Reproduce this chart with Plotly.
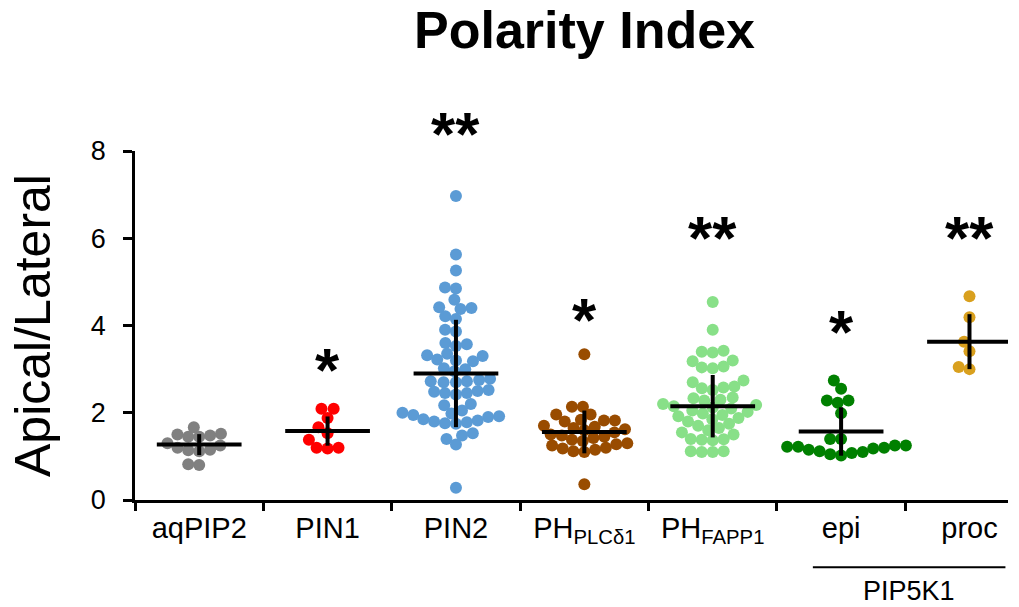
import numpy as np
import plotly.graph_objects as go

categories = ["aqPIP2", "PIN1", "PIN2", "PH<sub>PLCδ1</sub>", "PH<sub>FAPP1</sub>", "epi", "proc"]
colors = ["#808080", "#ff0000", "#5b9bd5", "#994c00", "#88e088", "#008000", "#d9a01e"]

aqPIP2 = [1.67, 1.5, 1.48, 1.52, 1.45, 1.45, 1.3, 1.25, 1.2, 1.15, 1.14, 1.12, 0.82, 0.8]
PIN1 = [2.09, 2.09, 1.88, 1.67, 1.53, 1.38, 1.2, 1.18, 1.2]
PIN2 = [6.97, 5.63, 5.26, 4.87, 4.85, 4.59, 4.4, 4.38, 4.42, 4.21, 4.15, 3.9, 3.86, 3.6,
        3.57, 3.53, 3.35, 3.32, 3.3, 3.2, 3.22, 3.18, 3.02, 3.0, 2.95, 2.75, 2.72, 2.7,
        2.7, 2.72, 2.78, 2.5, 2.45, 2.42, 2.45, 2.48, 2.52, 2.2, 2.17, 2.05, 2.0, 1.98,
        1.95, 1.92, 1.9, 1.85, 1.82, 1.8, 1.78, 1.75, 1.76, 1.53, 1.4, 1.27, 1.48, 0.28]
PH_PLC = [3.34, 2.14, 2.14, 1.96, 1.96, 1.82, 1.8, 1.84, 1.82, 1.7, 1.68, 1.65, 1.62, 1.6,
          1.55, 1.5, 1.48, 1.45, 1.42, 1.38, 1.35, 1.3, 1.28, 1.25, 1.2, 1.18, 1.15, 1.12,
          1.1, 0.36]
PH_FAPP1 = [4.54, 3.9, 3.42, 3.4, 3.38, 3.2, 3.18, 3.06, 3.02, 3.04, 2.74, 2.7, 2.58, 2.52,
            2.56, 2.6, 2.35, 2.33, 2.3, 2.28, 2.2, 2.18, 2.15, 2.12, 2.1, 2.05, 2.02, 1.98,
            1.95, 1.92, 1.88, 1.85, 1.8, 1.75, 1.7, 1.65, 1.6, 1.55, 1.5, 1.4, 1.38, 1.39,
            1.37, 1.12, 1.1, 1.1, 1.12]
epi = [2.74, 2.55, 2.28, 2.28, 2.23, 1.99, 1.4, 1.4, 1.25, 1.22, 1.2, 1.15, 1.1, 1.05,
       1.02, 1.08, 1.12, 1.18, 1.22, 1.25]
proc = [4.67, 4.19, 3.63, 3.41, 3.0, 3.05]

groups = [aqPIP2, PIN1, PIN2, PH_PLC, PH_FAPP1, epi, proc]
means = [1.27, 1.58, 2.9, 1.56, 2.15, 1.57, 3.63]
sds = [0.24, 0.335, 1.23, 0.49, 0.715, 0.555, 0.63]
stars = ["", "*", "**", "*", "**", "*", "**"]
star_y = [None, 2.99, 8.39, 4.14, 6.02, 3.87, 6.02]
y_ticks = [0, 2, 4, 6, 8]

# pixel geometry used only for the swarm layout
PX_X = 128.6
PX_Y = 43.6
DIAM = 11.0


def swarm(vals):
    order = np.argsort(vals)
    placed = []
    offs = np.zeros(len(vals))
    for idx in order:
        y = vals[idx] * PX_Y
        cands = [0.0]
        for (px, py) in placed:
            dy = abs(y - py)
            if dy < DIAM:
                dx = np.sqrt(DIAM ** 2 - dy ** 2)
                cands += [px + dx + 0.01, px - dx - 0.01]
        cands.sort(key=lambda c: (abs(c), c))
        for c in cands:
            ok = all((c - px) ** 2 + (y - py) ** 2 >= DIAM ** 2 - 1e-6 for (px, py) in placed)
            if ok:
                placed.append((c, y))
                offs[idx] = c / PX_X
                break
    return offs


fig = go.Figure()
for i, vals in enumerate(groups):
    v = np.array(vals)
    off = swarm(v)
    fig.add_trace(go.Scatter(
        x=i + off, y=v, mode="markers",
        marker=dict(size=12, color=colors[i], line=dict(width=0)),
        showlegend=False, hoverinfo="y"))

for i in range(len(groups)):
    fig.add_trace(go.Scatter(
        x=[i], y=[means[i]], mode="markers",
        marker=dict(size=1, color="black"),
        error_x=dict(type="data", array=[0.33], symmetric=True, width=0, thickness=4, color="black"),
        error_y=dict(type="data", array=[sds[i]], symmetric=True, width=0, thickness=4, color="black"),
        showlegend=False, hoverinfo="skip"))

YMAX = 8.0
annotations = []
for i, s in enumerate(stars):
    if s:
        annotations.append(dict(x=i, y=star_y[i] / YMAX, text="<b>" + s + "</b>", showarrow=False,
                                font=dict(size=62, color="black"), xref="x", yref="paper",
                                yanchor="middle"))
annotations.append(dict(x=5.53, y=-0.26, xref="x", yref="paper", text="PIP5K1",
                        showarrow=False, font=dict(size=27, color="black"), yanchor="middle"))
annotations.append(dict(x=0.515, y=1.346, xref="paper", yref="paper",
                        text="<b>Polarity Index</b>",
                        showarrow=False, font=dict(size=52, color="black"), yanchor="middle",
                        xanchor="center"))

fig.update_layout(
    width=1019, height=607,
    margin=dict(l=135, r=11, t=151, b=107),
    paper_bgcolor="white", plot_bgcolor="white",
    font=dict(family="Liberation Sans, Arial, sans-serif", color="black"),
    annotations=annotations,
    shapes=[dict(type="line", xref="x", yref="paper", x0=4.78, x1=6.28, y0=-0.193, y1=-0.193,
                 line=dict(color="black", width=2))],
    xaxis=dict(range=[-0.5, 6.3], tickmode="array", tickvals=list(range(len(categories))),
               ticktext=categories, ticks="", showgrid=False, zeroline=False,
               showline=True, linecolor="black", linewidth=2.5,
               tickfont=dict(size=29, color="black"),
               minor=dict(ticks="outside", tick0=-0.5, dtick=1, ticklen=8, tickwidth=2.5,
                          tickcolor="black", showgrid=False)),
    yaxis=dict(range=[0, YMAX], tickvals=y_ticks, ticks="outside", ticklen=9, tickwidth=2.5,
               tickcolor="black", showgrid=False, zeroline=False, showline=True,
               linecolor="black", linewidth=2.5, tickfont=dict(size=27, color="black"),
               ticklabelstandoff=12,
               title=dict(text="Apical/Lateral", font=dict(size=50, color="black"), standoff=25)),
)

fig.write_html("out.html", config={"displayModeBar": False},
               post_script="document.body.style.margin='0px';")
